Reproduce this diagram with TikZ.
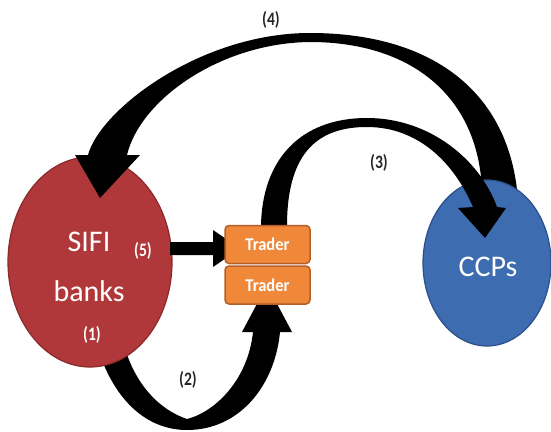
\documentclass[tikz,border=0pt]{standalone}
\usepackage{fontspec}
\setmainfont{Carlito}
\usetikzlibrary{shapes.geometric}
\definecolor{sifired}{RGB}{176,56,58}
\definecolor{sifiedge}{RGB}{138,40,42}
\definecolor{ccpblue}{RGB}{62,108,176}
\definecolor{ccpedge}{RGB}{44,80,138}
\definecolor{traderfill}{RGB}{240,136,58}
\definecolor{traderedge}{RGB}{180,94,40}

\begin{document}
\begin{tikzpicture}[x=1pt, y=-1pt,
    party/.style={ellipse, line width=1.2pt, inner sep=0pt},
    partytext/.style={text=white, align=center, font=\fontsize{30}{50}\selectfont},
    traderbox/.style={draw=traderedge, fill=traderfill, line width=1.5pt, rounded corners=4pt,
        minimum width=85pt, minimum height=38pt, inner sep=0pt, text=white,
        font=\fontsize{18}{18}\selectfont\bfseries},
    steplabel/.style={text=black!85, xscale=0.82, font=\fontsize{19}{19}\selectfont\bfseries}]
    \useasboundingbox (0,0) rectangle (551,431);
    \fill (100,355) .. controls (118,405) and (150,430) .. (187,430)
        .. controls (240,430) and (275,385) .. (280,332) -- (292,332) -- (267,285) -- (242,332) -- (253,332)
        .. controls (248,380) and (215,412) .. (187,419)
        .. controls (160,410) and (135,385) .. (124,345) -- cycle;
    \node[party, draw=sifiedge, fill=sifired, minimum width=164pt, minimum height=210pt] (sifi) at (90,262) {};
    \node[partytext] (sifitext) at (89,267) {SIFI\\banks};
    \fill (518,200) .. controls (510,90) and (430,33) .. (310,33)
        .. controls (200,33) and (100,110) .. (88,155) -- (75,155) -- (100,198) -- (140,155) -- (127,155)
        .. controls (140,100) and (220,43) .. (310,42)
        .. controls (410,42) and (478,95) .. (482,190) -- cycle;
    \node[party, draw=ccpedge, fill=ccpblue, minimum width=128pt, minimum height=166pt] (ccp) at (487,263) {};
    \node[partytext, anchor=base] (ccptext) at (488,276) {CCPs};
    \fill (261,226) .. controls (262,160) and (300,118) .. (367,118)
        .. controls (430,118) and (480,160) .. (497,207) -- (506,208) -- (485,238) -- (458,208) -- (473,207)
        .. controls (455,165) and (420,127) .. (367,127)
        .. controls (320,127) and (287,150) .. (287,226) -- cycle;
    \fill (170,242) -- (213,242) -- (213,230) -- (240,248.5) -- (213,267) -- (213,255) -- (170,255) -- cycle;
    \node[traderbox] (trader1) at (267.5,244.5) {\scalebox{0.92}[1]{Trader}};
    \node[traderbox] (trader2) at (267.5,285) {\scalebox{0.92}[1]{Trader}};
    \node[steplabel] (l4) at (271,20) {(4)};
    \node[steplabel] (l3) at (379,163) {(3)};
    \node[steplabel] (l2) at (188,380) {(2)};
    \node[steplabel, text=white] (l5) at (143,251) {(5)};
    \node[steplabel, text=white] (l1) at (92,335) {(1)};
\end{tikzpicture}
\end{document}
